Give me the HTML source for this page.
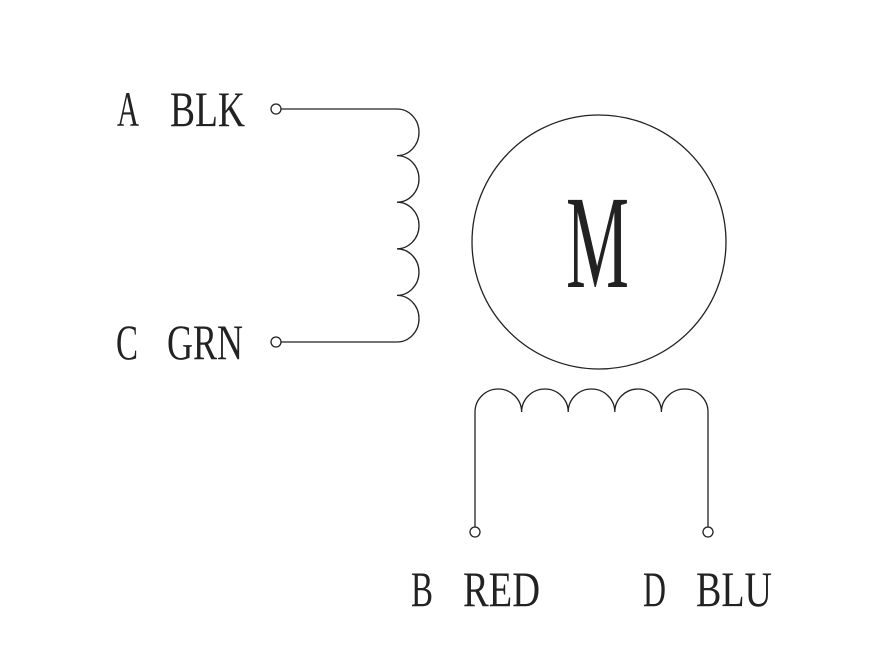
<!DOCTYPE html>
<html><head><style>html,body{margin:0;padding:0;background:#fff}</style></head>
<body>
<svg width="894" height="644" viewBox="0 0 894 644" xmlns="http://www.w3.org/2000/svg">
<g fill="none" stroke="#222" stroke-width="1.3">
<circle cx="276" cy="109" r="5"/>
<circle cx="276" cy="342" r="5"/>
<path d="M281 109 H397 A22 23.3 0 0 1 397 155.6 A22 23.3 0 0 1 397 202.2 A22 23.3 0 0 1 397 248.8 A22 23.3 0 0 1 397 295.4 A22 23.3 0 0 1 397 342 H281"/>
<circle cx="599" cy="242" r="127"/>
<path d="M475 527 V412 A23.3 23 0 0 1 521.6 412 A23.3 23 0 0 1 568.2 412 A23.3 23 0 0 1 614.8 412 A23.3 23 0 0 1 661.4 412 A23.3 23 0 0 1 708 412 V527"/>
<circle cx="475" cy="532" r="5"/>
<circle cx="708" cy="532" r="5"/>
</g>
<g style="font-family:'Liberation Serif',serif" fill="#222" font-size="50">
<text x="117" y="126" textLength="22" lengthAdjust="spacingAndGlyphs">A</text>
<text x="170" y="126" textLength="75" lengthAdjust="spacingAndGlyphs">BLK</text>
<text x="116" y="359" textLength="22" lengthAdjust="spacingAndGlyphs">C</text>
<text x="167" y="359" textLength="76" lengthAdjust="spacingAndGlyphs">GRN</text>
<text x="411" y="606" textLength="22" lengthAdjust="spacingAndGlyphs">B</text>
<text x="463" y="606" textLength="77" lengthAdjust="spacingAndGlyphs">RED</text>
<text x="643" y="606" textLength="23" lengthAdjust="spacingAndGlyphs">D</text>
<text x="696" y="606" textLength="76" lengthAdjust="spacingAndGlyphs">BLU</text>
<text x="566" y="287" font-size="133" textLength="63" lengthAdjust="spacingAndGlyphs">M</text>
</g>
</svg>
</body></html>
